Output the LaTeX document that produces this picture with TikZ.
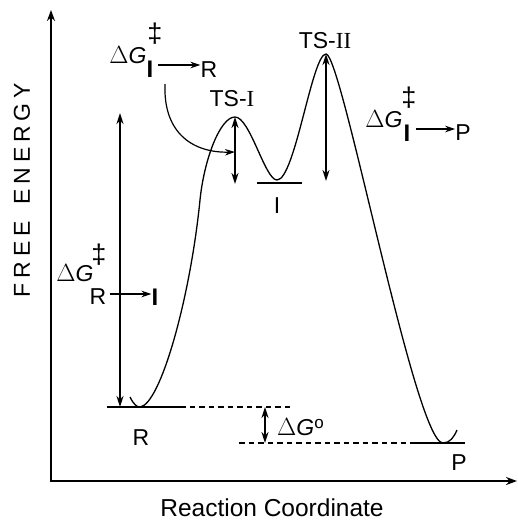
\documentclass[tikz,border=0pt]{standalone}
\usepackage{fontspec}
\setmainfont{Liberation Sans}
\newfontfamily\romanfont{Liberation Serif}
\usetikzlibrary{arrows.meta}

\begin{document}
\begin{tikzpicture}[
    x=1pt, y=-1pt,
    lbl/.style      = {inner sep=0pt, font=\fontsize{23}{27}\selectfont},
    sub/.style      = {inner sep=0pt, font=\fontsize{24}{28}\selectfont\bfseries},
    dag/.style      = {inner sep=0pt, font=\fontsize{27}{30}\selectfont},
    axis/.style     = {line width=2.6pt, {Stealth[length=11pt,width=8pt]}-{Stealth[length=11pt,width=8pt]}},
    level/.style    = {line width=2pt},
    guide/.style    = {line width=1.2pt, dash pattern=on 5.5pt off 4pt},
    darrow/.style   = {{Stealth[length=11pt,width=7pt]}-{Stealth[length=11pt,width=7pt]}, line width=1.9pt},
    subarrow/.style = {-{Stealth[length=10pt,width=6.5pt]}, line width=1.6pt},
    bendarrow/.style= {-{Stealth[length=10pt,width=6.5pt]}, line width=1.2pt},
    curve/.style    = {line width=1.3pt}
]
\useasboundingbox (0,0) rectangle (517,524);

%% -- Axes ----------------------------------------------------
\coordinate (ytop)   at (51,10);
\coordinate (origin) at (51,481);
\coordinate (xend)   at (517,481);
\draw[axis] (ytop) -- (origin) -- (xend);

\node[lbl, rotate=90] (yname) at (22,190)
  {F\kern5pt R\kern5pt E\kern5pt E\hspace{16pt}E\kern5pt N\kern5pt E\kern5pt R\kern5pt G\kern5pt Y};
\node[lbl, font=\fontsize{24.5}{28}\selectfont] (xname) at (272,508) {Reaction Coordinate};

%% -- Energy profile --------------------------------------------
\coordinate (start) at (130,397);
\coordinate (minR)  at (140,407);
\coordinate (rise)  at (200,200);
\coordinate (tsI)   at (235,117);
\coordinate (minI)  at (277,180);
\coordinate (tsII)  at (326,54);
\coordinate (minP)  at (443,443);
\coordinate (stop)  at (457,430);

\draw[curve] (start) .. controls (134,405) and (137,407) .. (minR)
  .. controls (160,405) and (190,300) .. (rise)
  .. controls (204,160) and (220,117) .. (tsI)
  .. controls (250,117) and (265,180) .. (minI)
  .. controls (295,180) and (312,54) .. (tsII)
  .. controls (342,54) and (415,443) .. (minP)
  .. controls (450,443) and (454,437) .. (stop);

%% -- Levels ----------------------------------------------------
\coordinate (rL)  at (107,407);
\coordinate (rR)  at (180,407);
\coordinate (rD)  at (293,407);
\coordinate (iL)  at (257,183);
\coordinate (iR)  at (302,183);
\coordinate (pD)  at (239,443);
\coordinate (pL)  at (415,443);
\coordinate (pR)  at (465,443);
\draw[level] (rL) -- (rR);
\draw[level] (iL) -- (iR);
\draw[level] (pL) -- (pR);
\draw[guide] (rR) -- (rD);
\draw[guide] (pD) -- (pL);

\node[lbl] (labR) at (141,438) {R};
\node[lbl] (labI) at (277,206) {I};
\node[lbl] (labP) at (459,463) {P};
\node[lbl] (labTSI)  at (232,99) {TS-{\romanfont I}};
\node[lbl] (labTSII) at (325,41) {TS-{\romanfont II}};

%% -- Barrier arrows --------------------------------------------
\coordinate (rTop) at (120,113);
\coordinate (rBot) at (120,407);
\coordinate (aTop) at (235,117);
\coordinate (aBot) at (235,184);
\coordinate (bTop) at (326,54);
\coordinate (bBot) at (326,181);
\coordinate (gTop) at (265,407);
\coordinate (gBot) at (265,443);
\draw[darrow] (rTop) -- (rBot);
\draw[darrow] (aTop) -- (aBot);
\draw[darrow] (bTop) -- (bBot);
\draw[darrow] (gTop) -- (gBot);

%% -- Delta G labels --------------------------------------------
% I -> R
\node[lbl] (dgIR)  at (128,55) {$\Delta$\textit{G}};
\node[dag] (ddIR)  at (155,34) {‡};
\node[sub] (sIR1)  at (150,69) {I};
\node[lbl] (sIR2)  at (209,70) {R};
\draw[subarrow] (sIR1.east) ++(4,-4) coordinate (sIRa) -- (sIR2.west |- sIRa);
\coordinate (bendS) at (165,84);
\draw[bendarrow] (bendS) .. controls (163,135) and (195,153) .. (aBot |- 0,152);

% R -> I
\node[lbl] (dgRI)  at (75,273) {$\Delta$\textit{G}};
\node[dag] (ddRI)  at (99,255) {‡};
\node[lbl] (sRI1)  at (98,297) {R};
\node[sub] (sRI2)  at (155,297) {I};
\draw[subarrow] (sRI1.east) ++(3,-3) coordinate (sRIa) -- (sRI2.west |- sRIa);

% I -> P
\node[lbl] (dgIP)  at (384,119) {$\Delta$\textit{G}};
\node[dag] (ddIP)  at (409,98) {‡};
\node[sub] (sIP1)  at (407,133) {I};
\node[lbl] (sIP2)  at (463,133) {P};
\draw[subarrow] (sIP1.east) ++(5,-4) coordinate (sIPa) -- (sIP2.west |- sIPa);

% standard free energy
\node[lbl, anchor=west] (dgO) at (277,427) {$\Delta$\textit{G}\raisebox{0.55ex}{\fontsize{17}{19}\selectfont o}};

\end{tikzpicture}
\end{document}
